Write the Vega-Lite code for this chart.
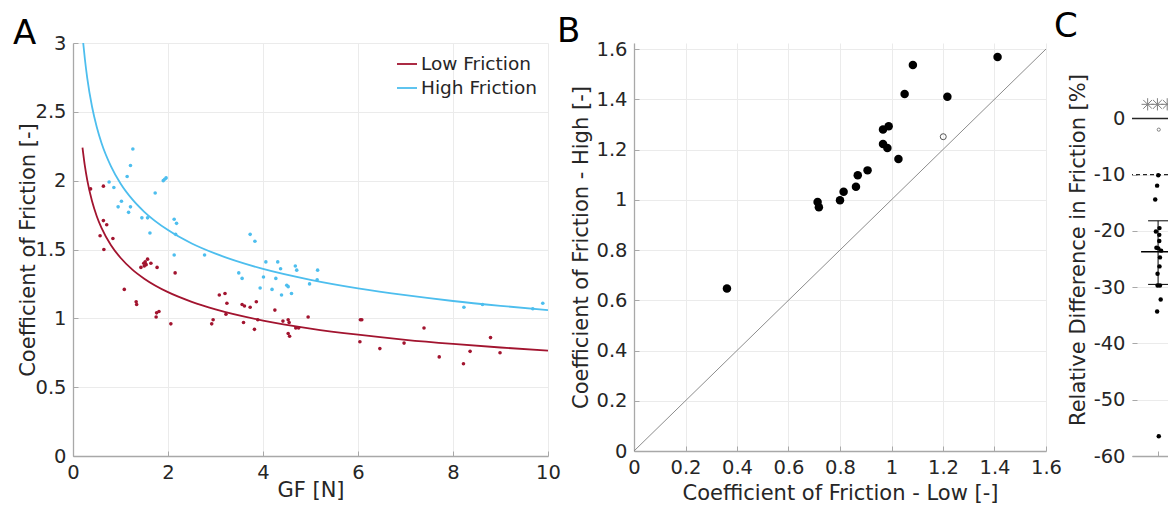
{
  "$schema": "https://vega.github.io/schema/vega-lite/v6.json",
  "background": "white",
  "padding": {"left": 13, "top": 10, "right": 0, "bottom": 0},
  "bounds": "flush",
  "align": "each",
  "spacing": 86,
  "config": {
    "font": "DejaVu Sans",
    "view": {"stroke": null},
    "axis": {
      "labelFont": "DejaVu Sans", "titleFont": "DejaVu Sans",
      "labelFontSize": 19.5, "titleFontSize": 21, "titleFontWeight": "normal",
      "labelColor": "#262626", "titleColor": "#262626",
      "domainColor": "#a8a8a8", "domainWidth": 1.3,
      "gridColor": "#ebebeb", "gridWidth": 1,
      "ticks": true, "tickSize": -5, "tickColor": "#a8a8a8",
      "labelPadding": 12, "labelFlush": false,
      "labelExpr": "'' + datum.value"
    },
    "title": {"font": "DejaVu Sans", "fontSize": 34, "fontWeight": "normal", "anchor": "start", "frame": "group", "color": "#000000"}
  },
  "datasets": {
    "a_pts": [
      {"gf":0.76,"cof":1.99,"cond":"High Friction"},{"gf":0.86,"cof":1.95,"cond":"High Friction"},{"gf":1.14,"cof":2.03,"cond":"High Friction"},{"gf":1.21,"cof":2.11,"cond":"High Friction"},{"gf":1.26,"cof":2.23,"cond":"High Friction"},{"gf":1.02,"cof":1.85,"cond":"High Friction"},{"gf":0.95,"cof":1.81,"cond":"High Friction"},{"gf":1.21,"cof":1.81,"cond":"High Friction"},{"gf":1.17,"cof":1.77,"cond":"High Friction"},{"gf":1.45,"cof":1.73,"cond":"High Friction"},{"gf":1.57,"cof":1.73,"cond":"High Friction"},{"gf":1.62,"cof":1.62,"cond":"High Friction"},{"gf":1.73,"cof":1.91,"cond":"High Friction"},{"gf":1.90,"cof":2.00,"cond":"High Friction"},{"gf":1.93,"cof":2.01,"cond":"High Friction"},{"gf":1.96,"cof":2.02,"cond":"High Friction"},{"gf":2.13,"cof":1.72,"cond":"High Friction"},{"gf":2.18,"cof":1.69,"cond":"High Friction"},{"gf":2.16,"cof":1.61,"cond":"High Friction"},{"gf":3.73,"cof":1.61,"cond":"High Friction"},{"gf":3.83,"cof":1.56,"cond":"High Friction"},{"gf":2.13,"cof":1.46,"cond":"High Friction"},{"gf":2.77,"cof":1.46,"cond":"High Friction"},{"gf":3.49,"cof":1.33,"cond":"High Friction"},{"gf":3.56,"cof":1.29,"cond":"High Friction"},{"gf":4.06,"cof":1.41,"cond":"High Friction"},{"gf":4.31,"cof":1.41,"cond":"High Friction"},{"gf":4.37,"cof":1.36,"cond":"High Friction"},{"gf":4.01,"cof":1.30,"cond":"High Friction"},{"gf":4.27,"cof":1.29,"cond":"High Friction"},{"gf":3.94,"cof":1.22,"cond":"High Friction"},{"gf":4.19,"cof":1.21,"cond":"High Friction"},{"gf":4.39,"cof":1.17,"cond":"High Friction"},{"gf":4.50,"cof":1.24,"cond":"High Friction"},{"gf":4.53,"cof":1.23,"cond":"High Friction"},{"gf":4.60,"cof":1.18,"cond":"High Friction"},{"gf":4.68,"cof":1.38,"cond":"High Friction"},{"gf":4.71,"cof":1.35,"cond":"High Friction"},{"gf":4.98,"cof":1.25,"cond":"High Friction"},{"gf":5.15,"cof":1.35,"cond":"High Friction"},{"gf":5.14,"cof":1.28,"cond":"High Friction"},{"gf":8.23,"cof":1.08,"cond":"High Friction"},{"gf":8.62,"cof":1.10,"cond":"High Friction"},{"gf":9.68,"cof":1.07,"cond":"High Friction"},{"gf":9.89,"cof":1.11,"cond":"High Friction"},
      {"gf":0.37,"cof":1.94,"cond":"Low Friction"},{"gf":0.64,"cof":1.96,"cond":"Low Friction"},{"gf":0.64,"cof":1.71,"cond":"Low Friction"},{"gf":0.71,"cof":1.68,"cond":"Low Friction"},{"gf":0.57,"cof":1.60,"cond":"Low Friction"},{"gf":0.84,"cof":1.58,"cond":"Low Friction"},{"gf":0.65,"cof":1.50,"cond":"Low Friction"},{"gf":1.57,"cof":1.43,"cond":"Low Friction"},{"gf":1.52,"cof":1.41,"cond":"Low Friction"},{"gf":1.49,"cof":1.40,"cond":"Low Friction"},{"gf":1.54,"cof":1.39,"cond":"Low Friction"},{"gf":1.43,"cof":1.37,"cond":"Low Friction"},{"gf":1.50,"cof":1.38,"cond":"Low Friction"},{"gf":1.64,"cof":1.40,"cond":"Low Friction"},{"gf":1.77,"cof":1.37,"cond":"Low Friction"},{"gf":2.15,"cof":1.33,"cond":"Low Friction"},{"gf":1.08,"cof":1.21,"cond":"Low Friction"},{"gf":1.33,"cof":1.12,"cond":"Low Friction"},{"gf":1.34,"cof":1.10,"cond":"Low Friction"},{"gf":1.75,"cof":1.01,"cond":"Low Friction"},{"gf":1.76,"cof":1.04,"cond":"Low Friction"},{"gf":1.81,"cof":1.05,"cond":"Low Friction"},{"gf":2.06,"cof":0.96,"cond":"Low Friction"},{"gf":2.92,"cof":0.96,"cond":"Low Friction"},{"gf":2.95,"cof":0.99,"cond":"Low Friction"},{"gf":3.08,"cof":1.17,"cond":"Low Friction"},{"gf":3.20,"cof":1.18,"cond":"Low Friction"},{"gf":3.24,"cof":1.11,"cond":"Low Friction"},{"gf":3.22,"cof":1.03,"cond":"Low Friction"},{"gf":3.56,"cof":1.10,"cond":"Low Friction"},{"gf":3.61,"cof":1.09,"cond":"Low Friction"},{"gf":3.73,"cof":1.08,"cond":"Low Friction"},{"gf":3.86,"cof":1.12,"cond":"Low Friction"},{"gf":3.59,"cof":0.97,"cond":"Low Friction"},{"gf":3.82,"cof":0.92,"cond":"Low Friction"},{"gf":3.89,"cof":0.99,"cond":"Low Friction"},{"gf":4.25,"cof":1.06,"cond":"Low Friction"},{"gf":4.42,"cof":0.98,"cond":"Low Friction"},{"gf":4.53,"cof":0.99,"cond":"Low Friction"},{"gf":4.55,"cof":0.97,"cond":"Low Friction"},{"gf":4.53,"cof":0.89,"cond":"Low Friction"},{"gf":4.56,"cof":0.87,"cond":"Low Friction"},{"gf":4.69,"cof":0.93,"cond":"Low Friction"},{"gf":4.75,"cof":0.93,"cond":"Low Friction"},{"gf":4.95,"cof":1.01,"cond":"Low Friction"},{"gf":6.05,"cof":0.99,"cond":"Low Friction"},{"gf":6.08,"cof":0.99,"cond":"Low Friction"},{"gf":6.04,"cof":0.83,"cond":"Low Friction"},{"gf":6.46,"cof":0.78,"cond":"Low Friction"},{"gf":6.97,"cof":0.82,"cond":"Low Friction"},{"gf":7.39,"cof":0.93,"cond":"Low Friction"},{"gf":7.71,"cof":0.72,"cond":"Low Friction"},{"gf":8.22,"cof":0.67,"cond":"Low Friction"},{"gf":8.36,"cof":0.76,"cond":"Low Friction"},{"gf":8.79,"cof":0.86,"cond":"Low Friction"},{"gf":8.99,"cof":0.75,"cond":"Low Friction"}
    ],
    "a_fit": [
      {"gf":0.2,"cof":2.24,"cond":"Low Friction"},{"gf":0.25,"cof":2.107,"cond":"Low Friction"},{"gf":0.3,"cof":2.004,"cond":"Low Friction"},{"gf":0.4,"cof":1.852,"cond":"Low Friction"},{"gf":0.5,"cof":1.742,"cond":"Low Friction"},{"gf":0.6,"cof":1.657,"cond":"Low Friction"},{"gf":0.8,"cof":1.531,"cond":"Low Friction"},{"gf":1,"cof":1.44,"cond":"Low Friction"},{"gf":1.25,"cof":1.354,"cond":"Low Friction"},{"gf":1.5,"cof":1.288,"cond":"Low Friction"},{"gf":2,"cof":1.19,"cond":"Low Friction"},{"gf":2.5,"cof":1.12,"cond":"Low Friction"},{"gf":3,"cof":1.065,"cond":"Low Friction"},{"gf":4,"cof":0.984,"cond":"Low Friction"},{"gf":5,"cof":0.926,"cond":"Low Friction"},{"gf":6,"cof":0.881,"cond":"Low Friction"},{"gf":7,"cof":0.844,"cond":"Low Friction"},{"gf":8,"cof":0.814,"cond":"Low Friction"},{"gf":9,"cof":0.788,"cond":"Low Friction"},{"gf":10,"cof":0.765,"cond":"Low Friction"},
      {"gf":0.215,"cof":3.0,"cond":"High Friction"},{"gf":0.25,"cof":2.884,"cond":"High Friction"},{"gf":0.3,"cof":2.745,"cond":"High Friction"},{"gf":0.4,"cof":2.539,"cond":"High Friction"},{"gf":0.5,"cof":2.39,"cond":"High Friction"},{"gf":0.6,"cof":2.274,"cond":"High Friction"},{"gf":0.8,"cof":2.104,"cond":"High Friction"},{"gf":1,"cof":1.98,"cond":"High Friction"},{"gf":1.25,"cof":1.864,"cond":"High Friction"},{"gf":1.5,"cof":1.774,"cond":"High Friction"},{"gf":2,"cof":1.641,"cond":"High Friction"},{"gf":2.5,"cof":1.544,"cond":"High Friction"},{"gf":3,"cof":1.47,"cond":"High Friction"},{"gf":4,"cof":1.359,"cond":"High Friction"},{"gf":5,"cof":1.28,"cond":"High Friction"},{"gf":6,"cof":1.218,"cond":"High Friction"},{"gf":7,"cof":1.168,"cond":"High Friction"},{"gf":8,"cof":1.126,"cond":"High Friction"},{"gf":9,"cof":1.091,"cond":"High Friction"},{"gf":10,"cof":1.06,"cond":"High Friction"}
    ],
    "b_pts": [
      {"low":0.361,"high":0.647},{"low":0.713,"high":0.991},{"low":0.718,"high":0.970},{"low":0.800,"high":0.998},{"low":0.814,"high":1.032},{"low":0.862,"high":1.052},{"low":0.869,"high":1.098},{"low":0.907,"high":1.117},{"low":0.967,"high":1.222},{"low":0.984,"high":1.206},{"low":0.967,"high":1.280},{"low":0.989,"high":1.293},{"low":1.027,"high":1.162},{"low":1.051,"high":1.421},{"low":1.083,"high":1.536},{"low":1.217,"high":1.410},{"low":1.412,"high":1.568}
    ],
    "b_open": [{"low":1.201,"high":1.251}],
    "b_diag": [{"v":0},{"v":1.6}],
    "c_pts": [
      {"x":1.007,"d":-10.1},{"x":0.963,"d":-11.95},{"x":0.890,"d":-14.4},{"x":0.917,"d":-20.1},{"x":1.053,"d":-19.5},{"x":1.045,"d":-20.7},{"x":1.045,"d":-21.8},{"x":0.936,"d":-23.0},{"x":1.007,"d":-23.1},{"x":1.116,"d":-23.5},{"x":1.072,"d":-24.7},{"x":1.053,"d":-26.3},{"x":0.980,"d":-27.6},{"x":0.980,"d":-29.7},{"x":1.072,"d":-29.7},{"x":1.100,"d":-32.2},{"x":0.963,"d":-34.3},{"x":1.026,"d":-56.5}
    ],
    "c_open": [{"x":1.026,"d":-2}],
    "c_stats": [{"x":1,"mean":-23.7,"lo":-29.5,"hi":-18.2}],
    "c_sig": [{"x":0.6,"y":2.5},{"x":0.975,"y":2.5},{"x":1.35,"y":2.5}],
    "c_zero": [{"y":0}],
    "c_thr": [{"y":-10}]
  },
  "hconcat": [
    {
      "width": 475, "height": 413,
      "title": {"text": "A", "dx": -60, "offset": -18},
      "layer": [
        {
          "data": {"name": "a_fit"},
          "mark": {"type": "line", "strokeWidth": 1.8, "clip": true, "interpolate": "monotone"},
          "encoding": {
            "x": {"field": "gf", "type": "quantitative", "scale": {"domain": [0, 10], "nice": false}, "axis": {"title": "GF [N]", "values": [0, 2, 4, 6, 8, 10], "titlePadding": -2}},
            "y": {"field": "cof", "type": "quantitative", "scale": {"domain": [0, 3], "nice": false}, "axis": {"title": "Coefficient of Friction [-]", "values": [0, 0.5, 1, 1.5, 2, 2.5, 3], "titlePadding": -4}},
            "color": {"field": "cond", "type": "nominal", "scale": {"domain": ["Low Friction", "High Friction"], "range": ["#A2142F", "#4DBEEE"]},
              "legend": {"title": null, "orient": "top-right", "offset": 10, "symbolType": "stroke", "symbolSize": 400, "symbolStrokeWidth": 1.8, "labelFontSize": 18.5, "labelFont": "DejaVu Sans", "labelColor": "#262626", "rowPadding": 3, "labelOffset": 3, "padding": 0}}
          }
        },
        {
          "data": {"name": "a_pts"},
          "mark": {"type": "circle", "size": 13, "opacity": 1},
          "encoding": {
            "x": {"field": "gf", "type": "quantitative"},
            "y": {"field": "cof", "type": "quantitative"},
            "color": {"field": "cond", "type": "nominal", "scale": {"domain": ["Low Friction", "High Friction"], "range": ["#A2142F", "#4DBEEE"]}, "legend": null}
          }
        }
      ],
      "resolve": {"scale": {"color": "independent"}}
    },
    {
      "width": 412, "height": 408,
      "title": {"text": "B", "dx": -77, "offset": -10},
      "layer": [
        {
          "data": {"name": "b_diag"},
          "mark": {"type": "line", "color": "#8c8c8c", "strokeWidth": 1},
          "encoding": {
            "x": {"field": "v", "type": "quantitative", "scale": {"domain": [0, 1.6], "nice": false}, "axis": {"title": "Coefficient of Friction - Low [-]", "values": [0, 0.2, 0.4, 0.6, 0.8, 1, 1.2, 1.4, 1.6], "titlePadding": 6}},
            "y": {"field": "v", "type": "quantitative", "scale": {"domain": [0, 1.624], "nice": false}, "axis": {"title": "Coefficient of Friction - High [-]", "values": [0, 0.2, 0.4, 0.6, 0.8, 1, 1.2, 1.4, 1.6], "titlePadding": 4}}
          }
        },
        {
          "data": {"name": "b_pts"},
          "mark": {"type": "circle", "size": 72, "color": "#000000", "opacity": 1},
          "encoding": {"x": {"field": "low", "type": "quantitative"}, "y": {"field": "high", "type": "quantitative"}}
        },
        {
          "data": {"name": "b_open"},
          "mark": {"type": "point", "shape": "circle", "size": 36, "filled": false, "color": "#555555", "strokeWidth": 1, "opacity": 1},
          "encoding": {"x": {"field": "low", "type": "quantitative"}, "y": {"field": "high", "type": "quantitative"}}
        }
      ]
    },
    {
      "width": 36, "height": 413,
      "title": {"text": "C", "dx": -78, "offset": -1},
      "layer": [
        {
          "data": {"name": "c_zero"},
          "mark": {"type": "rule", "color": "#262626", "strokeWidth": 1.5},
          "encoding": {
            "y": {"field": "y", "type": "quantitative", "scale": {"domain": [-60, 13.4], "nice": false}, "axis": {"title": "Relative Difference in Friction [%]", "values": [-60, -50, -40, -30, -20, -10, 0], "titlePadding": 5, "domain": false}}
          }
        },
        {
          "mark": {"type": "rule", "color": "#ebebeb", "strokeWidth": 1},
          "encoding": {"x": {"datum": 1, "type": "quantitative"}, "y": {"datum": -60, "type": "quantitative"}, "y2": {"datum": 10}}
        },
        {
          "mark": {"type": "rule", "color": "#a8a8a8", "strokeWidth": 1.3},
          "encoding": {"x": {"datum": 0.4, "type": "quantitative"}, "y": {"datum": -60, "type": "quantitative"}, "y2": {"datum": 10}}
        },
        {
          "data": {"name": "c_thr"},
          "mark": {"type": "rule", "color": "#262626", "strokeWidth": 1.3, "strokeDash": [4, 3]},
          "encoding": {"y": {"field": "y", "type": "quantitative"}}
        },
        {
          "data": {"name": "c_sig"},
          "mark": {"type": "point", "shape": "M-1,0L1,0M0,-1L0,1M-0.72,-0.72L0.72,0.72M-0.72,0.72L0.72,-0.72", "size": 150, "filled": false, "color": "#808080", "strokeWidth": 1, "opacity": 1, "clip": true},
          "encoding": {
            "x": {"field": "x", "type": "quantitative", "scale": {"domain": [0.4, 1.38], "nice": false}, "axis": {"title": null, "values": [1], "labels": false, "grid": false}},
            "y": {"field": "y", "type": "quantitative"}
          }
        },
        {
          "data": {"name": "c_stats"},
          "mark": {"type": "rule", "color": "#000000", "strokeWidth": 1},
          "encoding": {"x": {"field": "x", "type": "quantitative"}, "y": {"field": "lo", "type": "quantitative"}, "y2": {"field": "hi"}}
        },
        {
          "data": {"name": "c_stats"},
          "mark": {"type": "tick", "orient": "horizontal", "size": 20, "thickness": 1, "color": "#000000", "opacity": 1},
          "encoding": {"x": {"field": "x", "type": "quantitative"}, "y": {"field": "lo", "type": "quantitative"}}
        },
        {
          "data": {"name": "c_stats"},
          "mark": {"type": "tick", "orient": "horizontal", "size": 20, "thickness": 1, "color": "#000000", "opacity": 1},
          "encoding": {"x": {"field": "x", "type": "quantitative"}, "y": {"field": "hi", "type": "quantitative"}}
        },
        {
          "data": {"name": "c_stats"},
          "mark": {"type": "tick", "orient": "horizontal", "size": 34, "thickness": 1.6, "color": "#000000", "opacity": 1, "clip": true},
          "encoding": {"x": {"field": "x", "type": "quantitative"}, "y": {"field": "mean", "type": "quantitative"}}
        },
        {
          "data": {"name": "c_pts"},
          "mark": {"type": "circle", "size": 20, "color": "#000000", "opacity": 1, "clip": true},
          "encoding": {"x": {"field": "x", "type": "quantitative"}, "y": {"field": "d", "type": "quantitative"}}
        },
        {
          "data": {"name": "c_open"},
          "mark": {"type": "point", "shape": "circle", "size": 10, "filled": false, "color": "#666666", "strokeWidth": 0.8, "opacity": 1},
          "encoding": {"x": {"field": "x", "type": "quantitative"}, "y": {"field": "d", "type": "quantitative"}}
        }
      ]
    }
  ]
}
